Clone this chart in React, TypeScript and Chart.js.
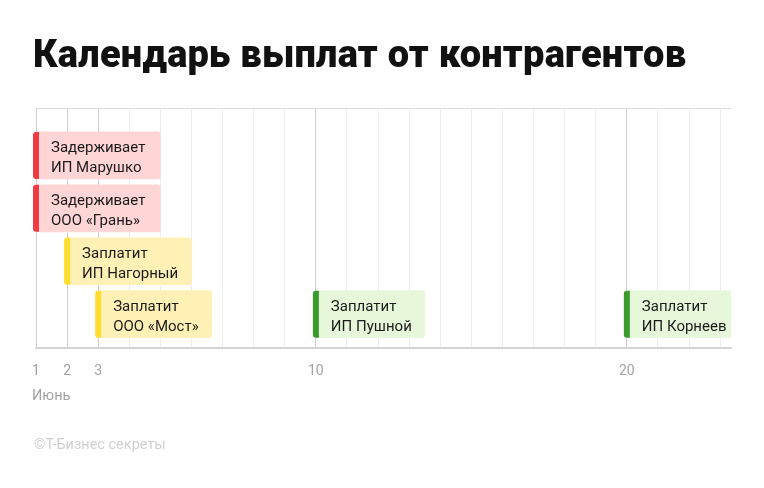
import React, { useEffect, useRef } from 'react';
import { Chart, registerables } from 'chart.js';

Chart.register(...registerables);

const TITLE = 'Календарь выплат от контрагентов';
const SOURCE = '©Т-Бизнес секреты';
const MONTH = 'Июнь';

const DAY_TICKS = [1, 2, 3, 4, 5, 6, 7, 8, 9, 10, 11, 12, 13, 14, 15, 16, 17, 18, 19, 20, 21, 22, 23];
const LABELED_DAYS = [1, 2, 3, 10, 20];

const ROWS = [1, 2, 3, 4, 4, 4];
const PAY_DAY = [1, 1, 2, 3, 10, 20];
const END_DAY = [5, 5, 6, 6.65, 13.5, 23.35];
const ACTION = ['Задерживает', 'Задерживает', 'Заплатит', 'Заплатит', 'Заплатит', 'Заплатит'];
const COMPANY = ['ИП Марушко', 'ООО «Грань»', 'ИП Нагорный', 'ООО «Мост»', 'ИП Пушной', 'ИП Корнеев'];
const STATUS = ['late', 'late', 'soon', 'soon', 'paid', 'paid'];

const FILL: Record<string, string> = { late: '#FFD5D5', soon: '#FFF1B6', paid: '#E7F8DA' };
const STRIPE: Record<string, string> = { late: '#EE3B44', soon: '#FFDC2E', paid: '#3A9A2C' };

const FONT = 'Roboto, "Noto Sans", sans-serif';

const decor = {
  id: 'decor',
  beforeDatasetsDraw(chart: any) {
    const { ctx, chartArea } = chart;
    ctx.save();
    ctx.strokeStyle = '#dcdcdc';
    ctx.lineWidth = 1;
    ctx.beginPath();
    ctx.moveTo(chartArea.left, chartArea.top + 0.5);
    ctx.lineTo(chartArea.right, chartArea.top + 0.5);
    ctx.stroke();
    ctx.restore();
  },
  afterDatasetsDraw(chart: any) {
    const { ctx } = chart;
    const meta = chart.getDatasetMeta(0);
    ctx.save();
    meta.data.forEach((el: any, i: number) => {
      const h = el.height;
      const top = el.y - h / 2;
      const x0 = el.base;
      ctx.fillStyle = STRIPE[STATUS[i]];
      ctx.beginPath();
      (ctx as any).roundRect(x0 - 3, top, 6, h, [3, 0, 0, 3]);
      ctx.fill();
      ctx.fillStyle = '#1a1a1a';
      ctx.font = `15px ${FONT}`;
      ctx.textBaseline = 'alphabetic';
      ctx.textAlign = 'left';
      ctx.fillText(ACTION[i], x0 + 15, el.y - 3.5);
      ctx.fillText(COMPANY[i], x0 + 15, el.y + 16.5);
    });
    ctx.restore();
  },
  afterDraw(chart: any) {
    const { ctx } = chart;
    ctx.save();
    ctx.fillStyle = '#111';
    ctx.font = `900 38px ${FONT}`;
    (ctx as any).letterSpacing = '0.25px';
    ctx.textBaseline = 'alphabetic';
    ctx.textAlign = 'left';
    ctx.fillText(TITLE, 33, 67);
    (ctx as any).letterSpacing = '0px';
    ctx.fillStyle = '#a3a3a3';
    ctx.font = `14.5px ${FONT}`;
    ctx.textBaseline = 'middle';
    ctx.fillText(MONTH, 32, 396);
    ctx.fillStyle = '#d0d0d0';
    ctx.font = `14.5px ${FONT}`;
    ctx.fillText(SOURCE, 34, 445);
    ctx.restore();
  },
};

export default function App() {
  const ref = useRef<HTMLCanvasElement>(null);
  useEffect(() => {
    if (!ref.current) return;
    const chart = new Chart(ref.current, {
      type: 'bar',
      data: {
        datasets: [
          {
            data: ROWS.map((r, i) => ({ x: [PAY_DAY[i], END_DAY[i]], y: r })) as any,
            backgroundColor: STATUS.map((s) => FILL[s]),
            borderRadius: 3,
            borderSkipped: false,
            barThickness: 47,
            clip: false as any,
          },
        ],
      },
      options: {
        indexAxis: 'y',
        animation: false,
        responsive: true,
        maintainAspectRatio: false,
        layout: { padding: { left: 36, right: 33, top: 108, bottom: 100 } },
        plugins: { legend: { display: false }, tooltip: { enabled: false } },
        scales: {
          x: {
            type: 'linear',
            min: 1,
            max: 23.35,
            afterBuildTicks: (scale: any) => {
              scale.ticks = DAY_TICKS.map((v) => ({ value: v }));
            },
            afterFit: (scale: any) => {
              scale.height = 40;
            },
            ticks: {
              autoSkip: false,
              maxRotation: 0,
              padding: 15,
              color: '#a3a3a3',
              font: { family: FONT, size: 14 },
              callback: (v: any) => (LABELED_DAYS.includes(Number(v)) ? String(v) : ''),
            },
            grid: {
              drawTicks: false,
              color: (c: any) => (c.tick && LABELED_DAYS.includes(c.tick.value) ? '#cfcfcf' : '#ededed'),
              lineWidth: 1,
            },
            border: { display: true, color: '#d4d4d4', width: 2 },
          },
          y: {
            type: 'linear',
            reverse: true,
            offset: false,
            min: 0.104,
            max: 4.64,
            display: false,
          },
        },
      },
      plugins: [decor],
    });
    return () => chart.destroy();
  }, []);
  return (
    <div style={{ position: 'fixed', left: 0, top: 0, width: 764, height: 488, background: '#fff' }}>
      <canvas ref={ref} />
    </div>
  );
}
